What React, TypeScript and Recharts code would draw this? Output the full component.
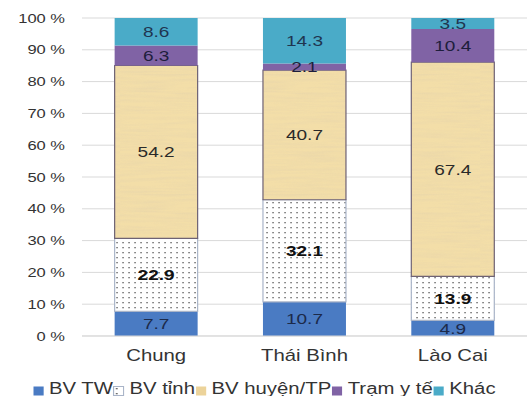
import React from 'react'
import { BarChart, Bar, XAxis, YAxis, CartesianGrid, Legend, LabelList } from 'recharts'

// Share of patients by place of treatment (%)
const categories = ['Chung', 'Thái Bình', 'Lào Cai']
const bvTW = [7.7, 10.7, 4.9]
const bvTinh = [22.9, 32.1, 13.9]
const bvHuyen = [54.2, 40.7, 67.4]
const tramYTe = [6.3, 2.1, 10.4]
const khac = [8.6, 14.3, 3.5]
const yTicks = [0, 0.1, 0.2, 0.3, 0.4, 0.5, 0.6, 0.7, 0.8, 0.9, 1]

const data = categories.map((name, i) => ({
  name,
  bvTW: bvTW[i],
  bvTinh: bvTinh[i],
  bvHuyen: bvHuyen[i],
  tramYTe: tramYTe[i],
  khac: khac[i],
}))

const FONT = '"Liberation Sans", Arial, sans-serif'
// all text is drawn horizontally widened
const STRETCH = 1.27

const series = [
  { key: 'bvTW', name: 'BV TW', fill: '#4a7bc3', stroke: 'none', label: '#1c2a4a', bold: false, swatch: '#4a7bc3' },
  { key: 'bvTinh', name: 'BV tỉnh', fill: 'url(#dots)', stroke: '#a9b4c8', label: '#111', bold: true, swatch: 'url(#dots)' },
  { key: 'bvHuyen', name: 'BV huyện/TP', fill: 'url(#paper)', stroke: '#6e6274', label: '#2a2a2a', bold: false, swatch: '#ecd39a' },
  { key: 'tramYTe', name: 'Trạm y tế', fill: '#8063a5', stroke: 'none', label: '#1e1e3c', bold: false, swatch: '#8063a5' },
  { key: 'khac', name: 'Khác', fill: '#4aabc8', stroke: 'none', label: '#1f3550', bold: false, swatch: '#4aabc8' },
]

const makeLabel = (color: string, bold: boolean) => (props: any) => {
  const { x, y, width, height, value } = props
  return (
    <g transform={`translate(${x + width / 2},${y + height / 2}) scale(${STRETCH},1)`}>
      <text
        dy="0.36em"
        textAnchor="middle"
        fontFamily={FONT}
        fontSize={15}
        fontWeight={bold ? 700 : 400}
        fill={color}
      >
        {value}
      </text>
    </g>
  )
}

const YTick = (props: any) => {
  const { x, y, payload } = props
  return (
    <g transform={`translate(${x},${y}) scale(${STRETCH},1)`}>
      <text dy="0.36em" textAnchor="end" fontFamily={FONT} fontSize={13} fill="#333">
        {`${Math.round(payload.value * 100)} %`}
      </text>
    </g>
  )
}

const XTick = (props: any) => {
  const { x, y, payload } = props
  return (
    <g transform={`translate(${x},${y}) scale(${STRETCH},1)`}>
      <text dy="0.71em" textAnchor="middle" fontFamily={FONT} fontSize={16} fill="#333">
        {payload.value}
      </text>
    </g>
  )
}

const LegendContent = () => (
  <div
    style={{
      display: 'flex',
      justifyContent: 'center',
      alignItems: 'center',
      height: 22,
      lineHeight: '22px',
      fontFamily: FONT,
      fontSize: 16,
      color: '#333',
      whiteSpace: 'nowrap',
      transform: `scaleX(${STRETCH})`,
      transformOrigin: '50% 50%',
    }}
  >
    {series.map((s) => (
      <span key={s.key} style={{ display: 'inline-flex', alignItems: 'center' }}>
        <svg width={9} height={10} style={{ marginRight: 4, marginTop: 4 }}>
          <rect x={0.5} y={0.5} width={8} height={9} fill={s.swatch} stroke={s.key === 'bvTinh' ? '#a9b4c8' : 'none'} />
        </svg>
        {s.name}
      </span>
    ))}
  </div>
)

export default function App() {
  return (
    <div style={{ position: 'absolute', left: 0, top: 0, background: '#fff' }}>
      <BarChart
        width={528}
        height={396}
        data={data}
        stackOffset="expand"
        barCategoryGap="22%"
        margin={{ top: 18, right: 1, bottom: 0, left: 0 }}
      >
        <defs>
          <pattern id="dots" width={6} height={5} patternUnits="userSpaceOnUse">
            <rect width={6} height={5} fill="#fff" />
            <rect x={2.4} y={2} width={1.3} height={1.3} fill="#555" />
          </pattern>
          <filter id="paperNoise" x="0" y="0" width="100%" height="100%">
            <feTurbulence type="fractalNoise" baseFrequency="0.02 0.35" numOctaves={3} seed={4} />
            <feColorMatrix
              type="matrix"
              values="0 0 0 0 0.80  0 0 0 0 0.66  0 0 0 0 0.40  0 0 0 1.6 -0.55"
            />
          </filter>
          <pattern id="paper" width={120} height={120} patternUnits="userSpaceOnUse">
            <rect width={120} height={120} fill="#f3dea8" />
            <rect width={120} height={120} filter="url(#paperNoise)" opacity={0.7} />
          </pattern>
        </defs>
        <CartesianGrid vertical={false} stroke="#d9d9d9" />
        <XAxis
          dataKey="name"
          height={38}
          tickLine={false}
          tickSize={0}
          tickMargin={14}
          axisLine={{ stroke: '#d9d9d9' }}
          tick={<XTick />}
        />
        <YAxis
          width={82}
          domain={[0, 1]}
          ticks={yTicks}
          axisLine={false}
          tickLine={false}
          tickSize={0}
          tickMargin={17}
          tick={<YTick />}
        />
        <Legend verticalAlign="bottom" height={22} wrapperStyle={{ left: 0, bottom: -4, width: 528 }} content={<LegendContent />} />
        {series.map((s) => (
          <Bar
            key={s.key}
            dataKey={s.key}
            name={s.name}
            stackId="a"
            fill={s.fill}
            stroke={s.stroke}
            strokeWidth={1.2}
            isAnimationActive={false}
          >
            <LabelList dataKey={s.key} content={makeLabel(s.label, s.bold)} />
          </Bar>
        ))}
      </BarChart>
    </div>
  )
}
